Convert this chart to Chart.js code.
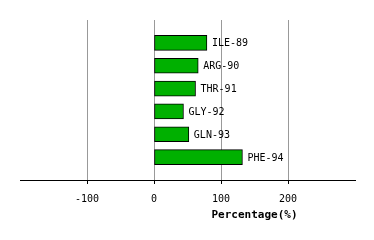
<!DOCTYPE html>
<html>
<head>
<meta charset="utf-8">
<script src="https://cdn.jsdelivr.net/npm/chart.js@4/dist/chart.umd.min.js"></script>
<style>
  html, body { margin: 0; padding: 0; background: #fff; }
  #wrap { width: 374px; height: 240px; }
</style>
</head>
<body>
<div id="wrap"><canvas id="c" width="374" height="240"></canvas></div>
<script>
const residues = ["ILE-89", "ARG-90", "THR-91", "GLY-92", "GLN-93", "PHE-94"]
const percentages = [79, 66, 62, 44, 52, 132]
const xMin = -200
const xMax = 300
const xStep = 100
const tickLabels = [-100, 0, 100, 200]
const axisTitle = "Percentage(%)"

// blank slots above and below so bars sit at 1..6 of a 0..7 band
const labels = ["", ...residues, ""]
const values = [null, ...percentages, null]

const MONO = "'DejaVu Sans Mono', monospace"

const barLabels = {
  id: "barLabels",
  afterDatasetsDraw(chart) {
    const ctx = chart.ctx
    const meta = chart.getDatasetMeta(0)
    ctx.save()
    ctx.font = "10px " + MONO
    ctx.fillStyle = "#000"
    ctx.textBaseline = "middle"
    ctx.textAlign = "left"
    meta.data.forEach((bar, i) => {
      if (values[i] == null) return
      ctx.fillText(labels[i], bar.x + 5, bar.y + 1)
    })
    ctx.restore()
  },
}

const xTitle = {
  id: "xTitle",
  afterDraw(chart) {
    const ctx = chart.ctx
    ctx.save()
    ctx.font = "bold 11px " + MONO
    ctx.fillStyle = "#000"
    ctx.textAlign = "center"
    ctx.textBaseline = "middle"
    ctx.fillText(axisTitle, chart.scales.x.getPixelForValue(150), 215)
    ctx.restore()
  },
}

const isShown = (v) => tickLabels.includes(v)

new Chart(document.getElementById("c").getContext("2d"), {
  type: "bar",
  data: {
    labels: labels,
    datasets: [
      {
        data: values,
        backgroundColor: "#00b000",
        borderColor: "#000",
        borderWidth: 1,
        borderSkipped: false,
        barThickness: 15,
      },
    ],
  },
  options: {
    indexAxis: "y",
    responsive: false,
    animation: false,
    layout: { padding: { left: 20, right: 19, top: 20, bottom: 0 } },
    plugins: {
      legend: { display: false },
      tooltip: { enabled: false },
    },
    scales: {
      x: {
        type: "linear",
        min: xMin,
        max: xMax,
        afterFit: (scale) => { scale.height = 60 },
        ticks: {
          stepSize: xStep,
          padding: 9,
          color: "#000",
          font: { family: MONO, size: 10 },
          maxRotation: 0,
          callback: (v) => (isShown(v) ? String(v) : ""),
        },
        grid: {
          color: (c) => (c.tick && isShown(c.tick.value) ? "#999" : "rgba(0,0,0,0)"),
          tickColor: (c) => (c.tick && isShown(c.tick.value) ? "#000" : "rgba(0,0,0,0)"),
          tickLength: 4,
          lineWidth: 1,
        },
        border: { display: true, color: "#000", width: 1 },
      },
      y: {
        type: "category",
        offset: false,
        display: false,
      },
    },
  },
  plugins: [barLabels, xTitle],
})
</script>
</body>
</html>
